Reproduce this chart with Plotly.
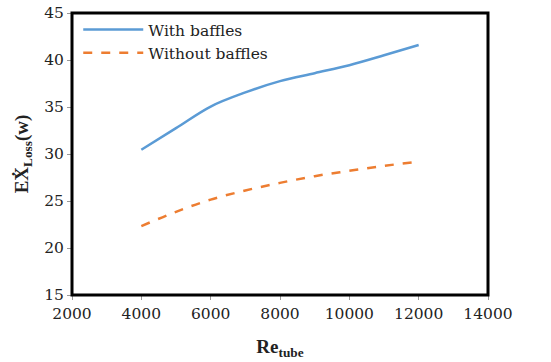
import plotly.graph_objects as go

re_tube = [4000, 5000, 6000, 7000, 8000, 9000, 10000, 11000, 12000]
with_baffles = [30.45, 32.75, 35.05, 36.55, 37.75, 38.6, 39.45, 40.5, 41.6]
without_baffles = [22.33, 23.85, 25.15, 26.12, 26.93, 27.64, 28.21, 28.74, 29.17]

x_ticks = [2000, 4000, 6000, 8000, 10000, 12000, 14000]
x_tick_labels = ["2000", "4000", "6000", "8000", "10000", "12000", "14000"]
y_ticks = [15, 20, 25, 30, 35, 40, 45]
y_tick_labels = ["15", "20", "25", "30", "35", "40", "45"]

font_family = "DejaVu Serif"
title_family = "Liberation Serif, DejaVu Serif"

fig = go.Figure()
fig.add_trace(go.Scatter(x=re_tube, y=with_baffles, mode="lines", name="With baffles",
                         line=dict(color="#5B9BD5", width=2.5, shape="spline")))
fig.add_trace(go.Scatter(x=re_tube, y=without_baffles, mode="lines", name="Without baffles",
                         line=dict(color="#ED7D31", width=2.5, dash="dash", shape="spline")))

fig.update_layout(
    width=551, height=362,
    margin=dict(l=72, r=63, t=13, b=67, autoexpand=False),
    paper_bgcolor="white", plot_bgcolor="white",
    font=dict(family=font_family, size=15.5, color="#222222"),
    showlegend=True,
    legend=dict(x=0.015, y=1.0, xanchor="left", yanchor="top", bgcolor="rgba(0,0,0,0)",
                font=dict(size=15.5, family=font_family), tracegroupgap=0, itemwidth=60),
    xaxis=dict(range=[2000, 14000], tickvals=x_ticks, ticktext=x_tick_labels,
               showgrid=False, zeroline=False, automargin=False,
               ticks="outside", ticklen=4, tickcolor="#999999", showline=False,
               tickfont=dict(size=15.5, family=font_family),
               title=dict(text="<b>Re<sub>tube</sub></b>", font=dict(size=19, family=title_family), standoff=18)),
    yaxis=dict(range=[15, 45], tickvals=y_ticks, ticktext=y_tick_labels,
               showgrid=False, zeroline=False, automargin=False,
               ticks="outside", ticklen=4, tickcolor="#999999", showline=False,
               tickfont=dict(size=15.5, family=font_family),
               title=dict(text="<b>EẊ<sub>Loss</sub>(w)</b>", font=dict(size=19, family=title_family), standoff=10)),
)

fig.add_shape(type="rect", xref="paper", yref="paper", x0=0, y0=0, x1=1, y1=1,
              line=dict(color="black", width=3), fillcolor="rgba(0,0,0,0)")

fig.write_html("out.html")
